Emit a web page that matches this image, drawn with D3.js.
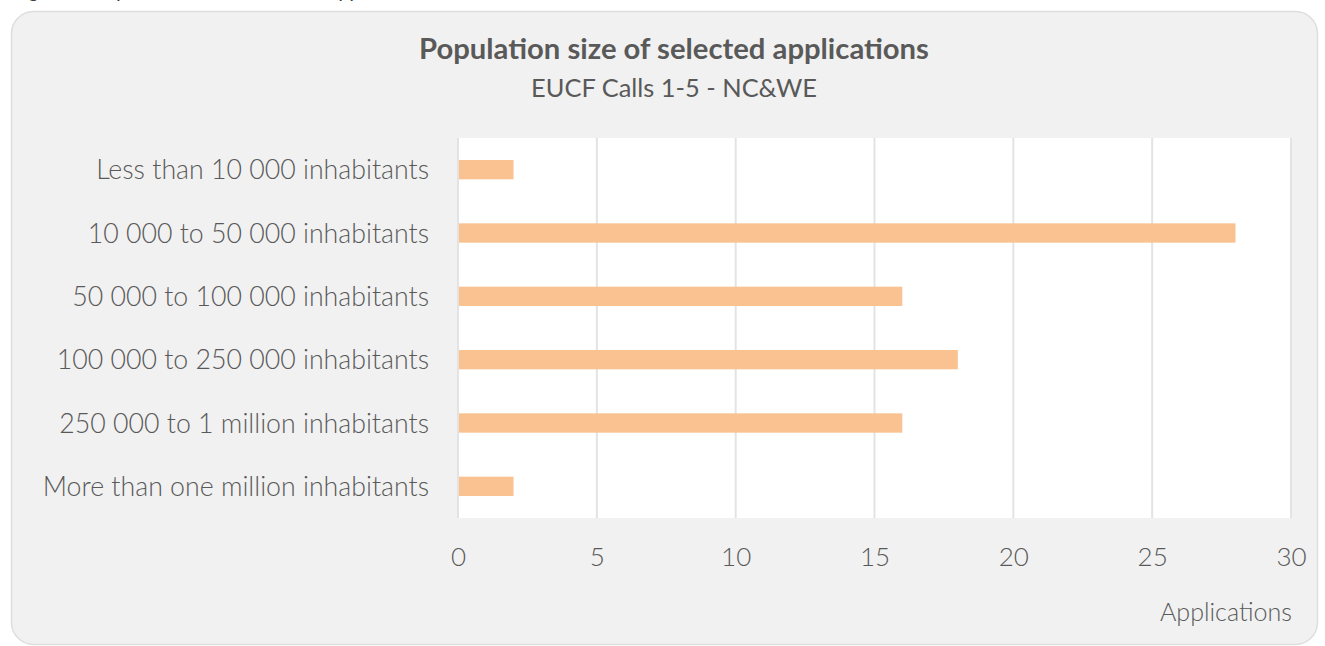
<!DOCTYPE html>
<html><head><meta charset="utf-8">
<script src="https://cdn.jsdelivr.net/npm/d3@7"></script>
<style>
html,body{margin:0;padding:0;background:#fff;}
svg{display:block;}
</style></head>
<body>
<svg id="chart" width="1325" height="646"></svg>
<script>
const categories = [
  "Less than 10 000 inhabitants",
  "10 000 to 50 000 inhabitants",
  "50 000 to 100 000 inhabitants",
  "100 000 to 250 000 inhabitants",
  "250 000 to 1 million inhabitants",
  "More than one million inhabitants"
];
const values = [2, 28, 16, 18, 16, 2];
const xTicks = [0, 5, 10, 15, 20, 25, 30];
const title = "Population size of selected applications";
const subtitle = "EUCF Calls 1-5 - NC&WE";
const xAxisTitle = "Applications";
const caption = "Figure 5: Population size of selected applications";

const FONT = "'Source Sans Pro','Lato','Open Sans',sans-serif";
const svg = d3.select("#chart");

function fit(sel, target) {
  const w = sel.node().getComputedTextLength();
  const fs = parseFloat(sel.attr("font-size"));
  sel.attr("font-size", (fs * target / w).toFixed(2));
}

// caption, cut by the top edge as in the reference
const cap = svg.append("text").attr("x", 14).attr("y", -3)
  .attr("font-family", FONT).attr("font-style", "italic").attr("font-size", 18)
  .attr("fill", "#404040").text(caption);
fit(cap, 420);

// container
svg.append("rect").attr("x", 11.5).attr("y", 11.5).attr("width", 1306).attr("height", 633)
  .attr("rx", 22).attr("fill", "#f1f1f1").attr("stroke", "#dedede").attr("stroke-width", 1.5);

const plot = {left: 458, right: 1291, top: 138, bottom: 518};

const x = d3.scaleLinear().domain([0, 30]).range([plot.left, plot.right]);
const y = d3.scaleBand().domain(categories).range([plot.top, plot.bottom]).paddingInner(0.695).paddingOuter(0.3475);

svg.append("rect").attr("x", plot.left).attr("y", plot.top)
  .attr("width", plot.right - plot.left).attr("height", plot.bottom - plot.top).attr("fill", "#fff");

svg.append("g").selectAll("line").data(xTicks).join("line")
  .attr("x1", d => x(d)).attr("x2", d => x(d))
  .attr("y1", plot.top).attr("y2", plot.bottom)
  .attr("stroke", "#e3e3e3").attr("stroke-width", 2);

svg.append("g").selectAll("rect").data(values).join("rect")
  .attr("x", x(0) + 1).attr("y", (d, i) => y(categories[i]))
  .attr("width", d => x(d) - x(0) - 1).attr("height", y.bandwidth())
  .attr("fill", "#f9c290");

const yAxis = d3.axisLeft(y).tickSize(0).tickPadding(29);
const yg = svg.append("g").attr("transform", `translate(${plot.left},0)`).call(yAxis);
yg.select(".domain").remove();
yg.selectAll("text").attr("font-family", FONT).attr("font-weight", 300)
  .attr("font-size", 25).attr("fill", "#595959");
const longest = yg.selectAll("text").filter(d => d === categories[0]);
const lw = longest.node().getComputedTextLength();
const yfs = 25 * 333 / lw;
yg.selectAll("text").attr("font-size", yfs.toFixed(2)).attr("dy", "0.36em");

const xAxis = d3.axisBottom(x).tickValues(xTicks).tickSize(0).tickPadding(30);
const xg = svg.append("g").attr("transform", `translate(0,${plot.bottom})`).call(xAxis);
xg.select(".domain").remove();
xg.selectAll("text").attr("font-family", FONT).attr("font-weight", 300)
  .attr("font-size", 26).attr("fill", "#595959").attr("dy", "0.71em");

const xt = svg.append("text").attr("x", 1292).attr("y", 621).attr("text-anchor", "end")
  .attr("font-family", FONT).attr("font-weight", 300).attr("font-size", 22)
  .attr("fill", "#595959").text(xAxisTitle);
fit(xt, 132);

const t = svg.append("text").attr("x", 674).attr("y", 59).attr("text-anchor", "middle")
  .attr("font-family", FONT).attr("font-weight", 700).attr("font-size", 25)
  .attr("fill", "#595959").text(title);
fit(t, 510);
const st = svg.append("text").attr("x", 674).attr("y", 97).attr("text-anchor", "middle")
  .attr("font-family", FONT).attr("font-weight", 400).attr("font-size", 24)
  .attr("fill", "#595959").text(subtitle);
fit(st, 286);
</script>
</body></html>
